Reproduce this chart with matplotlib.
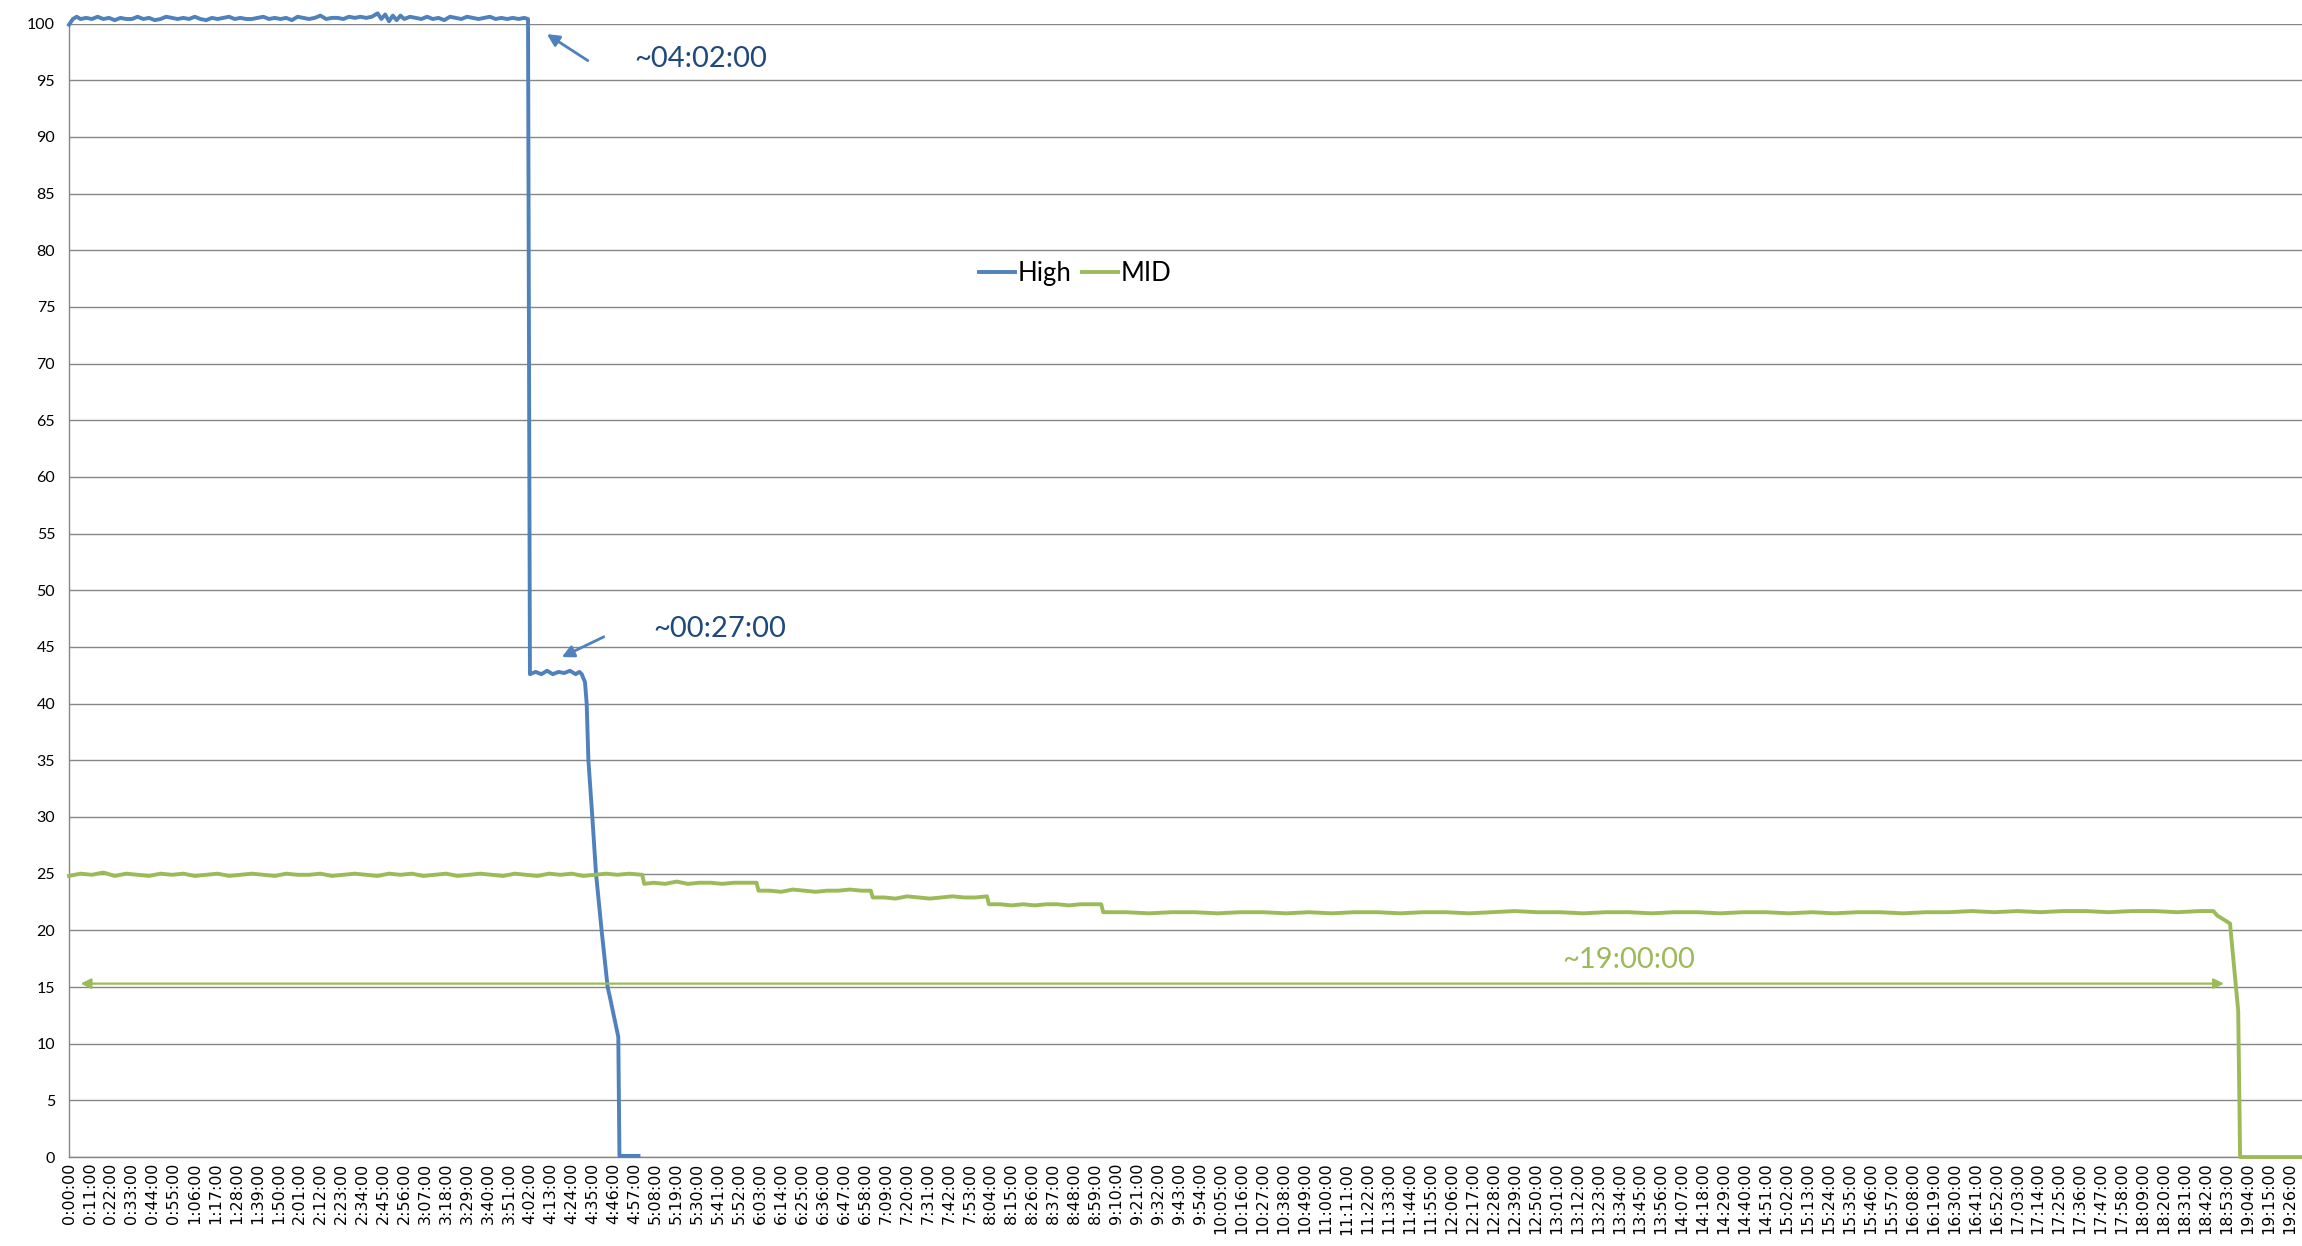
import matplotlib
matplotlib.use("Agg")
import matplotlib.pyplot as plt

# readings (minute, value) taken off the chart
high_pts = [
    (0, 99.9), (2, 100.4), (4, 100.6), (6, 100.4), (9, 100.5), (12, 100.4), (15, 100.6),
    (18, 100.4), (21, 100.5), (24, 100.3), (27, 100.5), (30, 100.4), (33, 100.4), (36, 100.6),
    (39, 100.4), (42, 100.5), (45, 100.3), (48, 100.4), (51, 100.6), (54, 100.5), (57, 100.4),
    (60, 100.5), (63, 100.4), (66, 100.6), (69, 100.4), (72, 100.3), (75, 100.5), (78, 100.4),
    (81, 100.5), (84, 100.6), (87, 100.4), (90, 100.5), (93, 100.4), (96, 100.4), (99, 100.5),
    (102, 100.6), (105, 100.4), (108, 100.5), (111, 100.4), (114, 100.5), (117, 100.3),
    (120, 100.6), (123, 100.5), (126, 100.4), (129, 100.5), (132, 100.7), (135, 100.4),
    (138, 100.5), (141, 100.5), (144, 100.4), (147, 100.6), (150, 100.5), (153, 100.6),
    (156, 100.5), (159, 100.6), (162, 100.9), (164, 100.4), (166, 100.8), (168, 100.2),
    (170, 100.7), (172, 100.3), (174, 100.7), (176, 100.4), (179, 100.6), (182, 100.5),
    (185, 100.4), (188, 100.6), (191, 100.4), (194, 100.5), (197, 100.3), (200, 100.6),
    (203, 100.5), (206, 100.4), (209, 100.6), (212, 100.5), (215, 100.4), (218, 100.5),
    (221, 100.6), (224, 100.4), (227, 100.5), (230, 100.4), (233, 100.5), (236, 100.4),
    (239, 100.5), (241, 100.4),
    (242, 42.6), (245, 42.8), (248, 42.6), (251, 42.9), (254, 42.6), (257, 42.8),
    (260, 42.7), (263, 42.9), (266, 42.6), (268, 42.8), (269.2, 42.6), (270.9, 41.9),
    (271.8, 40.0), (272.7, 35.0), (274.8, 29.9), (276.7, 25.0), (279.7, 19.9),
    (282.8, 15.0), (284, 14.1), (288.4, 10.6), (289, 0.1), (299, 0.1),
]

mid_pts = [
    (0, 24.8), (6, 25.0), (12, 24.9), (18, 25.1), (24, 24.8), (30, 25.0), (36, 24.9),
    (42, 24.8), (48, 25.0), (54, 24.9), (60, 25.0), (66, 24.8), (72, 24.9), (78, 25.0),
    (84, 24.8), (90, 24.9), (96, 25.0), (102, 24.9), (108, 24.8), (114, 25.0), (120, 24.9),
    (126, 24.9), (132, 25.0), (138, 24.8), (144, 24.9), (150, 25.0), (156, 24.9),
    (162, 24.8), (168, 25.0), (174, 24.9), (180, 25.0), (186, 24.8), (192, 24.9),
    (198, 25.0), (204, 24.8), (210, 24.9), (216, 25.0), (222, 24.9), (228, 24.8),
    (234, 25.0), (240, 24.9), (246, 24.8), (252, 25.0), (258, 24.9), (264, 25.0),
    (270, 24.8), (276, 24.9), (282, 25.0), (288, 24.9), (294, 25.0), (301, 24.9),
    (302, 24.1), (307, 24.2), (313, 24.1), (319, 24.3), (325, 24.1), (331, 24.2),
    (337, 24.2), (343, 24.1), (349, 24.2), (355, 24.2), (361, 24.2),
    (362, 23.5), (368, 23.5), (374, 23.4), (380, 23.6), (386, 23.5), (392, 23.4),
    (398, 23.5), (404, 23.5), (410, 23.6), (416, 23.5), (421, 23.5),
    (422, 22.9), (428, 22.9), (434, 22.8), (440, 23.0), (446, 22.9), (452, 22.8),
    (458, 22.9), (464, 23.0), (470, 22.9), (476, 22.9), (482, 23.0),
    (483, 22.3), (489, 22.3), (495, 22.2), (501, 22.3), (507, 22.2), (513, 22.3),
    (519, 22.3), (525, 22.2), (531, 22.3), (537, 22.3), (542, 22.3),
    (543, 21.6), (555, 21.6), (567, 21.5), (579, 21.6), (591, 21.6), (603, 21.5),
    (615, 21.6), (627, 21.6), (639, 21.5), (651, 21.6), (663, 21.5), (675, 21.6),
    (687, 21.6), (699, 21.5), (711, 21.6), (723, 21.6), (735, 21.5), (747, 21.6),
    (759, 21.7), (771, 21.6), (783, 21.6), (795, 21.5), (807, 21.6), (819, 21.6),
    (831, 21.5), (843, 21.6), (855, 21.6), (867, 21.5), (879, 21.6), (891, 21.6),
    (903, 21.5), (915, 21.6), (927, 21.5), (939, 21.6), (951, 21.6), (963, 21.5),
    (975, 21.6), (987, 21.6), (999, 21.7), (1011, 21.6), (1023, 21.7), (1035, 21.6),
    (1047, 21.7), (1059, 21.7), (1071, 21.6), (1083, 21.7), (1095, 21.7), (1107, 21.6),
    (1119, 21.7), (1126, 21.7), (1128, 21.3), (1130, 21.1), (1134.7, 20.6),
    (1139, 12.9), (1140, 0.0), (1172.5, 0.0),
]

tick_minutes = list(range(0, 1167, 11))
tick_labels = ["%d:%02d:00" % (m // 60, m % 60) for m in tick_minutes]
y_ticks = list(range(0, 101, 5))

blue = '#4f81bd'
green = '#9bbb59'
dark = '#1f497d'
grid = '#868686'

fig = plt.figure(figsize=(23.02, 12.46), dpi=100)
ax = fig.add_axes([0.030, 0.0714, 0.970, 0.9097])

hx, hy = zip(*high_pts)
mx, my = zip(*mid_pts)
ax.plot(hx, hy, color=blue, lw=2.8, label='High', clip_on=False, zorder=3)
ax.plot(mx, my, color=green, lw=2.8, label='MID', clip_on=False, zorder=3)

ax.set_xlim(0, 1172.5)
ax.set_ylim(0, 100)
ax.set_yticks(y_ticks)
ax.set_yticklabels([str(v) for v in y_ticks], family='Lato', fontsize=11.5)
ax.set_xticks(tick_minutes)
ax.set_xticklabels(tick_labels, rotation=90, family='DejaVu Sans', fontsize=11.5)
ax.tick_params(axis='y', length=0, pad=10)
ax.tick_params(axis='x', length=0, pad=4)
ax.grid(axis='y', color=grid, lw=1.0)
ax.set_axisbelow(True)
for s in ['top', 'right']:
    ax.spines[s].set_visible(False)
for s in ['left', 'bottom']:
    ax.spines[s].set_color(grid)
    ax.spines[s].set_linewidth(1.0)

# annotations
ax.annotate('', xy=(249.7, 99.2), xytext=(273.6, 96.6),
            arrowprops=dict(arrowstyle='-|>', color=blue, lw=2, mutation_scale=18))
ax.text(296.7, 96.9, '~04:02:00', family='Lato', fontsize=21, color=dark, va='center')
ax.annotate('', xy=(257.4, 44.0), xytext=(282.1, 46.0),
            arrowprops=dict(arrowstyle='-|>', color=blue, lw=2, mutation_scale=18))
ax.text(306.7, 46.6, '~00:27:00', family='Lato', fontsize=21, color=dark, va='center')
ax.annotate('', xy=(6.1, 15.3), xytext=(1131.5, 15.3),
            arrowprops=dict(arrowstyle='<|-|>', color=green, lw=1.6, mutation_scale=15,
                            shrinkA=0, shrinkB=0))
ax.text(819, 17.4, '~19:00:00', family='Lato', fontsize=21, color=green, va='center', ha='center')

ax.legend(loc='center', bbox_to_anchor=(0.4505, 0.7795), ncol=2, frameon=False,
          prop={'family': 'Lato', 'size': 18.5}, handlelength=1.4, handletextpad=0.1,
          columnspacing=0.4)

fig.savefig('out.png', dpi=100)
